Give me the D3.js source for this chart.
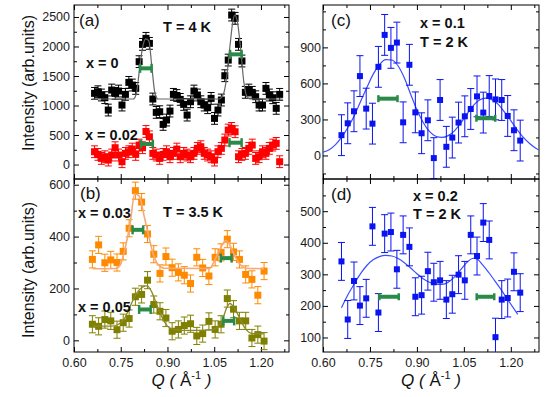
<!DOCTYPE html>
<html>
<head>
<meta charset="utf-8">
<script src="https://cdn.jsdelivr.net/npm/d3@7"></script>
<style>
body{margin:0;background:#fff;}
svg text{font-family:"Liberation Sans",Arial,sans-serif;}
</style>
</head>
<body>
<div id="chart"></div>
<script>
// ---- data ----
// panel (a)
var qA=[0.666,0.677,0.688,0.699,0.710,0.721,0.732,0.743,0.754,0.765,0.776,0.787,0.798,0.809,0.820,0.831,0.842,0.853,0.864,0.875,0.886,0.897,0.908,0.919,0.930,0.941,0.952,0.963,0.974,0.985,0.996,1.007,1.018,1.029,1.040,1.051,1.062,1.073,1.084,1.095,1.106,1.117,1.128,1.139,1.150,1.161,1.172,1.183,1.194,1.205,1.216,1.227,1.238,1.249,1.260];
var blackA=[1206,1233,1178,1133,923,1262,1206,1245,1008,1189,1392,1347,1290,1743,2036,2138,2053,1110,884,895,680,754,906,1189,1170,1104,1019,838,1064,1245,1178,1064,1008,963,1121,782,923,1093,1505,1770,2533,2477,2036,1754,1223,1262,1223,1149,1008,1008,1290,1178,1132,952,1189];
var redA=[217,172,104,132,76,161,285,161,48,189,217,262,172,330,285,560,470,189,161,104,172,217,132,189,262,132,189,161,132,189,274,302,189,161,132,76,217,274,415,584,612,556,132,172,189,274,330,104,132,217,189,274,330,358,48];
var errA=100;
var fitBlackQ=[0.66,0.79,0.80,0.81,0.82,0.83,0.84,0.85,0.86,0.87,1.065,1.08,1.09,1.10,1.11,1.116,1.125,1.135,1.145,1.155,1.165,1.27];
var fitBlackV=[1110,1110,1200,1600,1980,2130,2100,1650,1200,1110,1110,1200,1480,1980,2430,2530,2400,1950,1400,1150,1110,1110];
var resLoA=[0.812,1.101,0.815,1.099];
var resHiA=[0.849,1.138,0.853,1.138];
var resYA=[1630,1867,347,370];

// panel (b)
var qB=[0.659,0.679,0.699,0.718,0.738,0.758,0.777,0.797,0.817,0.836,0.856,0.876,0.895,0.915,0.935,0.954,0.974,0.994,1.013,1.033,1.053,1.072,1.092,1.112,1.131,1.151,1.171,1.190,1.210];
var orangeB=[312,368,299,310,300,343,432,577,533,410,332,258,323,280,262,251,219,320,279,248,320,339,390,341,312,254,235,174,267];
var oliveB=[62,54,80,75,41,68,84,168,177,232,138,112,86,35,42,57,64,17,26,73,42,62,161,120,75,75,9,22,-3];
var errB=33;
var fitOrangeQ=[0.66,0.735,0.75,0.765,0.78,0.795,0.81,0.825,0.84,0.855,0.87,0.89,1.035,1.05,1.07,1.087,1.10,1.11,1.13,1.15,1.21];
var fitOrangeV=[276,277,295,360,450,565,555,480,400,330,292,278,277,305,355,385,368,340,297,278,276];
var fitOliveQ=[0.66,0.72,0.74,0.76,0.78,0.80,0.82,0.835,0.85,0.865,0.88,0.90,0.92,0.95,1.04,1.06,1.075,1.09,1.10,1.115,1.13,1.15,1.17,1.21];
var fitOliveV=[55,55,60,80,130,180,205,210,185,140,95,55,41,38,40,50,75,125,142,125,90,45,27,25];
var resLoB=[0.788,1.071,0.809,1.079];
var resHiB=[0.822,1.106,0.846,1.114];
var resYB=[426,317,119,75];

// panels (c) and (d)
var qCD=[0.659,0.679,0.699,0.718,0.738,0.758,0.777,0.797,0.817,0.836,0.856,0.876,0.895,0.915,0.935,0.954,0.974,0.994,1.013,1.033,1.053,1.072,1.092,1.112,1.131,1.151,1.171,1.190,1.210,1.230];
var blueC=[169,268,368,661,390,265,738,1004,896,940,276,755,359,185,293,-22,462,72,149,274,326,387,492,357,495,467,462,329,210,124];
var errC=170;
var fitCQ=[0.60,0.62,0.64,0.66,0.68,0.70,0.72,0.74,0.76,0.78,0.80,0.82,0.84,0.86,0.88,0.90,0.92,0.94,0.96,0.98,1.00,1.02,1.04,1.06,1.08,1.10,1.12,1.14,1.16,1.18,1.20,1.22,1.24,1.26,1.28,1.29];
var fitCV=[28,48,90,155,235,330,450,565,675,755,798,795,745,645,510,380,275,200,160,150,165,205,270,345,415,462,478,465,425,360,290,215,150,100,60,45];
var resLoC=[0.777,1.090];
var resHiC=[0.838,1.150];
var resYC=[473,310];

var blueD=[341,157,279,201,224,452,179,429,434,316,425,387,229,234,310,275,281,220,237,299,281,425,358,464,409,101,220,225,308,242];
var errD=60;
var fitDQ=[0.659,0.68,0.70,0.72,0.74,0.76,0.78,0.80,0.82,0.84,0.86,0.88,0.90,0.92,0.94,0.96,0.98,1.00,1.02,1.04,1.06,1.08,1.09,1.11,1.13,1.15,1.17,1.19,1.222];
var fitDV=[194,236,270,302,328,346,356,360,358,350,337,320,302,286,275,269,268,275,292,315,338,351,350,330,305,278,250,220,173];
var resLoD=[0.780,1.091];
var resHiD=[0.842,1.147];
var resYD=[229,229];

var xTicks=[0.60,0.75,0.90,1.05,1.20];
var xMinor=[0.675,0.825,0.975,1.125,1.275];

// ---- drawing ----
var svg=d3.select('#chart').append('svg')
    .attr('width',548)
    .attr('height',397);

var green='#2a8a48';
var clipId=0;

function makePanel(opt){
    var x=d3.scaleLinear().domain([0.6,1.29]).range([opt.left,opt.left+opt.width]);
    var y=d3.scaleLinear().domain(opt.yDomain).range([opt.top+opt.height,opt.top]);
    var g=svg.append('g');

    function tidy(sel){
        sel.select('.domain').remove();
        sel.attr('font-family','"Liberation Sans",Arial,sans-serif').attr('font-size',12.5);
        sel.selectAll('text').attr('fill','#1a1a1a');
    }
    var bottom=opt.top+opt.height, right=opt.left+opt.width;

    g.append('g').attr('transform',`translate(${opt.left},0)`)
        .call(d3.axisLeft(y).tickValues(opt.yTicks).tickSize(-5).tickPadding(opt.pad).tickFormat(d3.format('d'))).call(tidy);
    g.append('g').attr('transform',`translate(${opt.left},0)`)
        .call(d3.axisLeft(y).tickValues(opt.yMinor).tickSize(-3).tickFormat('')).call(tidy);
    g.append('g').attr('transform',`translate(${right},0)`)
        .call(d3.axisRight(y).tickValues(opt.yTicks).tickSize(-5).tickFormat('')).call(tidy);
    g.append('g').attr('transform',`translate(${right},0)`)
        .call(d3.axisRight(y).tickValues(opt.yMinor).tickSize(-3).tickFormat('')).call(tidy);
    g.append('g').attr('transform',`translate(0,${bottom})`)
        .call(d3.axisBottom(x).tickValues(xTicks).tickSize(-5).tickPadding(6)
            .tickFormat(opt.xLabels ? d3.format('.2f') : '')).call(tidy);
    g.append('g').attr('transform',`translate(0,${bottom})`)
        .call(d3.axisBottom(x).tickValues(xMinor).tickSize(-3).tickFormat('')).call(tidy);
    g.append('g').attr('transform',`translate(0,${opt.top})`)
        .call(d3.axisTop(x).tickValues(xTicks).tickSize(-5).tickFormat('')).call(tidy);
    g.append('g').attr('transform',`translate(0,${opt.top})`)
        .call(d3.axisTop(x).tickValues(xMinor).tickSize(-3).tickFormat('')).call(tidy);

    g.append('rect')
        .attr('x',opt.left).attr('y',opt.top)
        .attr('width',opt.width).attr('height',opt.height)
        .attr('fill','none').attr('stroke','#000').attr('stroke-width',1);

    var id='clip'+(clipId++);
    svg.append('clipPath').attr('id',id).append('rect')
        .attr('x',opt.left).attr('y',opt.top).attr('width',opt.width).attr('height',opt.height);
    var marks=svg.append('g').attr('clip-path',`url(#${id})`);
    return {x:x,y:y,marks:marks};
}

function drawPoints(p,q,v,err,color,size){
    var data=q.map((qq,i)=>({q:qq,v:v[i]}));
    var gg=p.marks.append('g').attr('stroke',color).attr('fill',color);
    gg.selectAll('.eb').data(data).enter().append('line')
        .attr('x1',d=>p.x(d.q)).attr('x2',d=>p.x(d.q))
        .attr('y1',d=>p.y(d.v-err)).attr('y2',d=>p.y(d.v+err))
        .attr('stroke-width',1);
    [-1,1].forEach(function(s){
        gg.selectAll('.cap'+s).data(data).enter().append('line')
            .attr('x1',d=>p.x(d.q)-3.5).attr('x2',d=>p.x(d.q)+3.5)
            .attr('y1',d=>p.y(d.v+s*err)).attr('y2',d=>p.y(d.v+s*err))
            .attr('stroke-width',1);
    });
    gg.selectAll('rect').data(data).enter().append('rect')
        .attr('x',d=>p.x(d.q)-size/2).attr('y',d=>p.y(d.v)-size/2)
        .attr('width',size).attr('height',size)
        .attr('stroke','none');
}

function drawFit(p,q,v,color,w){
    var line=d3.line().x(d=>p.x(d[0])).y(d=>p.y(d[1])).curve(d3.curveMonotoneX);
    p.marks.append('path').datum(d3.zip(q,v))
        .attr('d',line).attr('fill','none')
        .attr('stroke',color).attr('stroke-width',w);
}

function drawRes(p,lo,hi,v,capH){
    lo.forEach(function(q0,i){
        var x0=p.x(q0), x1=p.x(hi[i]), yy=p.y(v[i]);
        p.marks.append('line').attr('x1',x0).attr('x2',x1).attr('y1',yy).attr('y2',yy)
            .attr('stroke',green).attr('stroke-width',4);
        [x0,x1].forEach(function(xx){
            p.marks.append('line').attr('x1',xx).attr('x2',xx)
                .attr('y1',yy-capH/2).attr('y2',yy+capH/2)
                .attr('stroke',green).attr('stroke-width',2.5);
        });
    });
}

function label(x,y,txt,size,weight){
    svg.append('text').attr('x',x).attr('y',y)
        .attr('font-size',size).attr('font-weight',weight||'normal')
        .attr('fill','#111').text(txt);
}

// panel (a)
var pa=makePanel({left:74,top:5,width:215,height:174,yDomain:[-245,2703],
    yTicks:[0,500,1000,1500,2000,2500],yMinor:[250,750,1250,1750,2250],pad:4,xLabels:false});
drawPoints(pa,qA,blackA,errA,'#000',7);
drawPoints(pa,qA,redA,errA,'#ff0000',7);
drawFit(pa,fitBlackQ,fitBlackV,'#666',1.2);
drawRes(pa,resLoA,resHiA,resYA,9);

// panel (b)
var pb=makePanel({left:74,top:179,width:215,height:173,yDomain:[-45,622],
    yTicks:[0,200,400,600],yMinor:[100,300,500],pad:4,xLabels:true});
drawPoints(pb,qB,orangeB,errB,'#ff8a00',7);
drawPoints(pb,qB,oliveB,errB,'#808000',7);
drawFit(pb,fitOrangeQ,fitOrangeV,'#f7a877',1.6);
drawFit(pb,fitOliveQ,fitOliveV,'#8a8a2a',1.3);
drawRes(pb,resLoB,resHiB,resYB,9);

// panel (c)
var pc=makePanel({left:323,top:5,width:216,height:174,yDomain:[-196,1253],
    yTicks:[0,300,600,900],yMinor:[-150,150,450,750,1050,1200],pad:2,xLabels:false});
drawFit(pc,fitCQ,fitCV,'#3a4cff',1.2);
drawPoints(pc,qCD,blueC,errC,'#0a14f0',6);
drawRes(pc,resLoC,resHiC,resYC,7);

// panel (d)
var pd=makePanel({left:323,top:179,width:216,height:173,yDomain:[54,602],
    yTicks:[100,200,300,400,500],yMinor:[150,250,350,450,550],pad:2,xLabels:true});
drawFit(pd,fitDQ,fitDV,'#3a4cff',1.2);
drawPoints(pd,qCD,blueD,errD,'#0a14f0',6);
drawRes(pd,resLoD,resHiD,resYD,7);

// panel texts
label(79,26,'(a)',17);
label(163,32,'T = 4 K',14.5,'bold');
label(86,68,'x = 0',14.5,'bold');
label(85,140,'x = 0.02',14.5,'bold');
label(80,199,'(b)',17);
label(78,218,'x = 0.03',14.5,'bold');
label(163,217,'T = 3.5 K',14.5,'bold');
label(78,312,'x = 0.05',14.5,'bold');
label(331,26,'(c)',17);
label(420,28,'x = 0.1',14.5,'bold');
label(420,47,'T = 2 K',14.5,'bold');
label(331,200,'(d)',17);
label(413,201,'x = 0.2',14.5,'bold');
label(413,219,'T = 2 K',14.5,'bold');

// axis titles
[[28,83],[28,270]].forEach(function(c){
    svg.append('text')
        .attr('transform',`translate(${c[0]},${c[1]}) rotate(-90)`)
        .attr('text-anchor','middle').attr('dy','0.35em')
        .attr('font-size',16).attr('fill','#111')
        .text('Intensity (arb.units)');
});
[181.5,431].forEach(function(cx){
    var t=svg.append('text').attr('x',cx).attr('y',386)
        .attr('text-anchor','middle').attr('font-size',17).attr('fill','#111');
    t.append('tspan').attr('font-style','italic').text('Q');
    t.append('tspan').attr('font-style','italic').text(' ( ');
    t.append('tspan').text('Å');
    t.append('tspan').attr('font-size',11).attr('dy',-7).text('-1');
    t.append('tspan').attr('font-style','italic').attr('dy',7).text(' )');
});
</script>
</body>
</html>
